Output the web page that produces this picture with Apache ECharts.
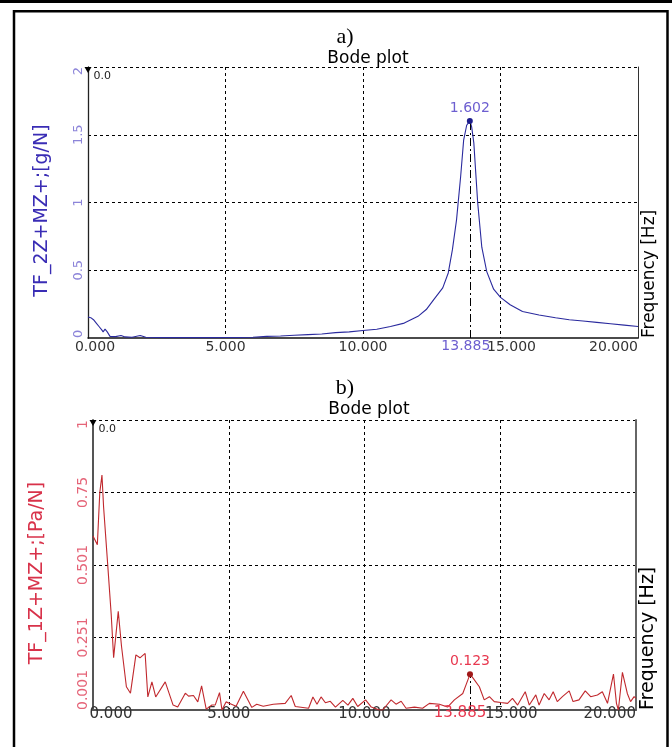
<!DOCTYPE html>
<html><head><meta charset="utf-8">
<script src="https://cdn.jsdelivr.net/npm/echarts@6/dist/echarts.min.js"></script>
<style>html,body{margin:0;padding:0;background:#fff}#c{width:672px;height:747px}</style>
</head><body><div id="c"></div>
<script>
// ---- data ----
const xTickLabels = ['0.000','5.000','10.000','15.000','20.000'];
const yTickLabelsA = ['0','0.5','1','1.5','2'];
const yTickLabelsB = ['0.001','0.251','0.501','0.75','1'];

const freqA = [0,0.1,0.2,0.3,0.4,0.5,0.55,0.62,0.7,0.8,1.0,1.2,1.35,1.6,1.9,2.1,2.5,3,3.5,4,4.5,5,5.5,6,6.5,7,7.5,8,8.5,9,9.5,10,10.5,11,11.5,12,12.3,12.6,12.9,13.1,13.25,13.4,13.55,13.66,13.77,13.885,13.95,14.03,14.1,14.17,14.32,14.5,14.75,15,15.35,15.8,16.4,17,17.5,18,18.5,19,19.5,20];
const magA = [0.155,0.15,0.135,0.11,0.085,0.06,0.045,0.065,0.045,0.012,0.01,0.018,0.008,0.006,0.018,0.006,0.004,0.003,0.003,0.003,0.003,0.004,0.004,0.005,0.012,0.015,0.02,0.025,0.03,0.04,0.045,0.055,0.065,0.085,0.11,0.16,0.21,0.29,0.37,0.48,0.65,0.87,1.19,1.46,1.57,1.602,1.56,1.44,1.22,1.0,0.67,0.49,0.36,0.3,0.245,0.195,0.17,0.15,0.135,0.125,0.115,0.105,0.095,0.085];

const freqB = [0,0.16,0.25,0.33,0.39,0.55,0.67,0.76,0.93,1.05,1.23,1.38,1.58,1.73,1.92,2.02,2.17,2.31,2.66,2.95,3.12,3.4,3.52,3.7,3.86,4.0,4.17,4.38,4.5,4.66,4.75,4.9,5.1,5.27,5.54,5.85,6.03,6.27,6.64,7.08,7.3,7.45,7.94,8.1,8.25,8.4,8.56,8.74,8.93,9.2,9.39,9.57,9.75,10.04,10.25,10.55,10.67,10.98,11.16,11.35,11.53,11.84,12.14,12.39,12.76,13.06,13.31,13.62,13.76,13.885,14.0,14.23,14.41,14.6,14.78,15.02,15.27,15.45,15.64,15.92,16.07,16.31,16.43,16.62,16.8,16.95,17.1,17.29,17.54,17.68,17.9,18.13,18.33,18.58,18.76,18.95,19.17,19.28,19.35,19.5,19.68,19.8,19.93,20];
const magB = [0.6,0.57,0.75,0.81,0.70,0.49,0.33,0.18,0.34,0.22,0.08,0.058,0.19,0.18,0.195,0.045,0.097,0.045,0.097,0.017,0.01,0.058,0.048,0.05,0.028,0.083,0.003,0.017,0.017,0.06,0.0,0.028,0.02,0.013,0.065,0.009,0.02,0.013,0.02,0.023,0.05,0.012,0.006,0.045,0.02,0.045,0.025,0.03,0.01,0.033,0.017,0.04,0.012,0.035,0.01,0.0,0.0,0.035,0.02,0.03,0.006,0.01,0.006,0.023,0.02,0.01,0.035,0.057,0.092,0.123,0.11,0.08,0.035,0.046,0.029,0.026,0.023,0.04,0.017,0.063,0.017,0.052,0.017,0.057,0.035,0.063,0.029,0.046,0.066,0.029,0.035,0.066,0.046,0.052,0.063,0.023,0.124,0.023,0.0,0.13,0.057,0.029,0.046,0.04];

const peakA = [13.885, 1.602];
const peakB = [13.885, 0.123];
const cursorLabel = '0.0';
// ---- end data ----

const FONT = 'DejaVu Sans';
const zip = (a, b) => a.map((x, i) => [x, b[i]]);

function xAxisCfg(grid, fs, margin, minPad, nameFs) {
  return {
    type: 'value', gridIndex: grid, min: 0, max: 20, interval: 5,
    name: 'Frequency [Hz]', nameLocation: 'end', nameRotate: 90, nameGap: 3,
    nameTextStyle: { fontFamily: FONT, fontSize: nameFs, color: '#000', align: 'left', verticalAlign: 'top' },
    axisLine: { show: true, onZero: false, lineStyle: { color: grid === 0 ? '#111' : '#555', width: grid === 0 ? 1.5 : 2 } },
    axisTick: { show: false },
    axisLabel: {
      fontFamily: FONT, fontSize: fs, color: '#333', margin: margin,
      formatter: v => {
        const t = xTickLabels[Math.round(v / 5)];
        if (v === 15) return '{s|' + t + '}';
        if (v === 0) return '{m|' + t + '}';
        return t;
      },
      rich: {
        s: { fontFamily: FONT, fontSize: fs, color: '#333', padding: [0, 0, 0, 22] },
        m: { fontFamily: FONT, fontSize: fs, color: '#333', padding: [0, 0, 0, minPad] }
      },
      alignMaxLabel: 'right'
    },
    splitLine: { show: true, showMinLine: false, showMaxLine: false, lineStyle: { color: '#000', type: [3, 3], width: 1 } }
  };
}

function yAxisCfg(grid, max, labels, name, nameColor, labelColor, nameGap, fs) {
  return {
    type: 'value', gridIndex: grid, min: 0, max: max, interval: max / 4,
    name: name, nameLocation: 'middle', nameGap: nameGap,
    nameTextStyle: { fontFamily: FONT, fontSize: 19, color: nameColor, padding: [0, 16, 0, 0] },
    axisLine: { show: true, lineStyle: { color: grid === 0 ? '#222' : '#555', width: grid === 0 ? 1.3 : 2 } },
    axisTick: { show: false },
    axisLabel: {
      fontFamily: FONT, fontSize: fs, color: labelColor, rotate: 90, margin: 3,
      formatter: v => labels[Math.round(v / (max / 4))],
      alignMinLabel: 'left', alignMaxLabel: 'right'
    },
    splitLine: { show: true, showMinLine: false, lineStyle: { color: '#000', type: [3, 3], width: 1 } }
  };
}

function rightEdge(grid, color, width) {
  return {
    type: 'value', gridIndex: grid, position: 'right', min: 0, max: 1,
    axisLine: { show: true, lineStyle: { color: color, width: width } },
    axisTick: { show: false }, axisLabel: { show: false }, splitLine: { show: false }
  };
}

function seriesCfg(grid, data, lineColor, yMax, peak, labelColor, dotColor, peakFs, lblDist, lblShift) {
  return {
    type: 'line', xAxisIndex: grid, yAxisIndex: grid * 2, data: data,
    showSymbol: false, symbol: 'none', silent: true, animation: false,
    lineStyle: { color: lineColor, width: 1.1 },
    markPoint: {
      silent: true, animation: false,
      data: [
        { coord: peak, symbol: 'circle', symbolSize: 6, itemStyle: { color: dotColor },
          label: { show: true, position: 'top', distance: 3, formatter: peak[1].toFixed(3),
                   fontFamily: FONT, fontSize: 14, color: labelColor } },
        { coord: [0, yMax], symbol: 'triangle', symbolRotate: 180, symbolSize: [7, 6], symbolOffset: [0, 3],
          itemStyle: { color: '#000' },
          label: { show: true, position: 'right', distance: 2, offset: [0, 6], formatter: cursorLabel,
                   fontFamily: FONT, fontSize: 11, color: '#222' } }
      ]
    },
    markLine: {
      silent: true, animation: false, symbol: ['none', 'none'],
      lineStyle: { color: '#000', type: [8, 3, 2, 3], width: 1 },
      label: { show: true, position: 'start', distance: lblDist, formatter: peak[0].toFixed(3),
               fontFamily: FONT, fontSize: peakFs, color: labelColor, offset: [lblShift, 0] },
      data: [[{ coord: [peak[0], 0] }, { coord: peak }]]
    }
  };
}

const chart = echarts.init(document.getElementById('c'), null, { renderer: 'canvas' });
chart.setOption({
  animation: false,
  backgroundColor: '#fff',
  title: [
    { text: 'a)', left: 340, top: 21, textAlign: 'center', textStyle: { fontFamily: 'Liberation Serif', fontSize: 22, fontWeight: 'normal', color: '#000' } },
    { text: 'Bode plot', left: 363, top: 45, textAlign: 'center', textStyle: { fontFamily: FONT, fontSize: 17, fontWeight: 'normal', color: '#000' } },
    { text: 'b)', left: 340, top: 372, textAlign: 'center', textStyle: { fontFamily: 'Liberation Serif', fontSize: 22, fontWeight: 'normal', color: '#000' } },
    { text: 'Bode plot', left: 364, top: 396, textAlign: 'center', textStyle: { fontFamily: FONT, fontSize: 17, fontWeight: 'normal', color: '#000' } }
  ],
  grid: [
    { left: 88, top: 67, width: 550, height: 271 },
    { left: 93, top: 420, width: 543, height: 290 }
  ],
  xAxis: [xAxisCfg(0, 14, 2, 14, 17), xAxisCfg(1, 15, -3, 36, 19)],
  yAxis: [
    yAxisCfg(0, 2, yTickLabelsA, 'TF_2Z+MZ+;[g/N]', '#3a2db5', '#8c84d9', 36, 13),
    rightEdge(0, '#333', 1),
    yAxisCfg(1, 1, yTickLabelsB, 'TF_1Z+MZ+;[Pa/N]', '#d8324a', '#e56478', 46, 14),
    rightEdge(1, '#666', 2)
  ],
  series: [
    seriesCfg(0, zip(freqA, magA), '#2a2a9e', 2, peakA, '#6d5fd0', '#1c1c8c', 14, 1, -4),
    seriesCfg(1, zip(freqB, magB), '#c0282d', 1, peakB, '#e8384f', '#a01818', 15, -4, -10)
  ],
  graphic: [
    { type: 'rect', shape: { x: 0, y: 0, width: 672, height: 3 }, style: { fill: '#000' }, z: 100 },
    { type: 'rect', shape: { x: 14, y: 11.3, width: 653.5, height: 760 }, style: { fill: 'none', stroke: '#000', lineWidth: 2.5 }, z: 100 }
  ]
});
</script></body></html>
